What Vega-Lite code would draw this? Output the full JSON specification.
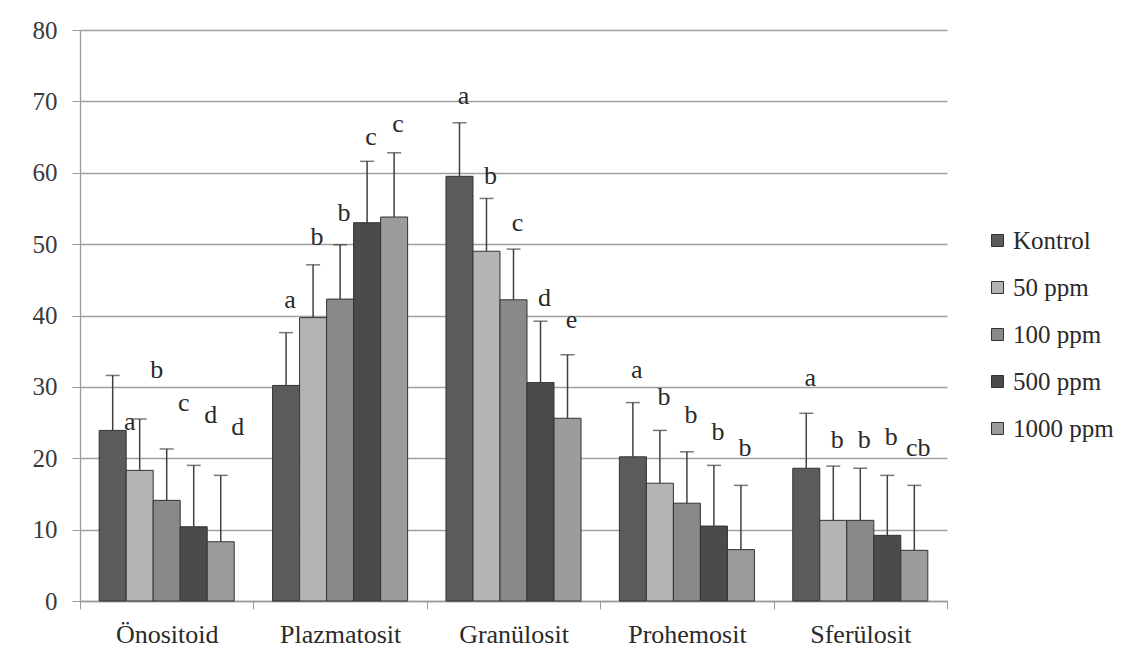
{
  "$schema": "https://vega.github.io/schema/vega-lite/v6.json",
  "width": 867,
  "height": 571,
  "autosize": {"type": "none"},
  "padding": {"left": 80, "top": 30, "right": 179, "bottom": 56},
  "background": "white",
  "config": {"view": {"stroke": null}, "font": "Liberation Serif"},
  "data": {
    "values": [
      {"group": "Önositoid", "dose": "Kontrol", "value": 23.9, "err": 31.6, "letter": "a", "ly": 25.1},
      {"group": "Önositoid", "dose": "50 ppm", "value": 18.3, "err": 25.5, "letter": "b", "ly": 32.4},
      {"group": "Önositoid", "dose": "100 ppm", "value": 14.1, "err": 21.3, "letter": "c", "ly": 27.8},
      {"group": "Önositoid", "dose": "500 ppm", "value": 10.4, "err": 19.0, "letter": "d", "ly": 26.1},
      {"group": "Önositoid", "dose": "1000 ppm", "value": 8.3, "err": 17.6, "letter": "d", "ly": 24.4},
      {"group": "Plazmatosit", "dose": "Kontrol", "value": 30.2, "err": 37.6, "letter": "a", "ly": 42.2},
      {"group": "Plazmatosit", "dose": "50 ppm", "value": 39.7, "err": 47.1, "letter": "b", "ly": 51.0},
      {"group": "Plazmatosit", "dose": "100 ppm", "value": 42.3, "err": 49.9, "letter": "b", "ly": 54.3},
      {"group": "Plazmatosit", "dose": "500 ppm", "value": 53.0, "err": 61.6, "letter": "c", "ly": 65.0},
      {"group": "Plazmatosit", "dose": "1000 ppm", "value": 53.8, "err": 62.8, "letter": "c", "ly": 66.9},
      {"group": "Granülosit", "dose": "Kontrol", "value": 59.5, "err": 67.0, "letter": "a", "ly": 70.8},
      {"group": "Granülosit", "dose": "50 ppm", "value": 49.0, "err": 56.4, "letter": "b", "ly": 59.6},
      {"group": "Granülosit", "dose": "100 ppm", "value": 42.2, "err": 49.3, "letter": "c", "ly": 52.9},
      {"group": "Granülosit", "dose": "500 ppm", "value": 30.6, "err": 39.2, "letter": "d", "ly": 42.5},
      {"group": "Granülosit", "dose": "1000 ppm", "value": 25.6, "err": 34.5, "letter": "e", "ly": 39.4},
      {"group": "Prohemosit", "dose": "Kontrol", "value": 20.2, "err": 27.8, "letter": "a", "ly": 32.4},
      {"group": "Prohemosit", "dose": "50 ppm", "value": 16.5, "err": 23.9, "letter": "b", "ly": 28.6},
      {"group": "Prohemosit", "dose": "100 ppm", "value": 13.7, "err": 20.9, "letter": "b", "ly": 26.1},
      {"group": "Prohemosit", "dose": "500 ppm", "value": 10.5, "err": 19.0, "letter": "b", "ly": 23.7},
      {"group": "Prohemosit", "dose": "1000 ppm", "value": 7.2, "err": 16.2, "letter": "b", "ly": 21.5},
      {"group": "Sferülosit", "dose": "Kontrol", "value": 18.6, "err": 26.3, "letter": "a", "ly": 31.3},
      {"group": "Sferülosit", "dose": "50 ppm", "value": 11.3, "err": 18.9, "letter": "b", "ly": 22.6},
      {"group": "Sferülosit", "dose": "100 ppm", "value": 11.3, "err": 18.6, "letter": "b", "ly": 22.6},
      {"group": "Sferülosit", "dose": "500 ppm", "value": 9.2, "err": 17.6, "letter": "b", "ly": 23.0},
      {"group": "Sferülosit", "dose": "1000 ppm", "value": 7.1, "err": 16.2, "letter": "cb", "ly": 21.5}
    ]
  },
  "encoding": {
    "x": {
      "field": "group",
      "type": "nominal",
      "sort": ["Önositoid", "Plazmatosit", "Granülosit", "Prohemosit", "Sferülosit"],
      "scale": {"paddingInner": 0, "paddingOuter": 0},
      "axis": {
        "title": null,
        "labelAngle": 0,
        "labelFont": "Liberation Serif",
        "labelFontSize": 26,
        "labelColor": "#2a2a2a",
        "labelPadding": 12,
        "tickBand": "extent",
        "tickSize": 8,
        "tickColor": "#9a9a9a",
        "domainColor": "#9a9a9a",
        "domainWidth": 1.3,
        "labelOverlap": false
      }
    },
    "xOffset": {
      "field": "dose",
      "type": "nominal",
      "sort": ["Kontrol", "50 ppm", "100 ppm", "500 ppm", "1000 ppm"],
      "scale": {"paddingInner": 0, "paddingOuter": 0.71}
    }
  },
  "layer": [
    {
      "mark": {"type": "bar", "stroke": "#333333", "strokeWidth": 1},
      "encoding": {
        "y": {
          "field": "value",
          "type": "quantitative",
          "scale": {"domain": [0, 80], "nice": false},
          "axis": {
            "title": null,
            "values": [0, 10, 20, 30, 40, 50, 60, 70, 80],
            "grid": true,
            "gridColor": "#a0a0a0",
            "gridWidth": 1.3,
            "domainColor": "#9a9a9a",
            "domainWidth": 1.3,
            "tickColor": "#9a9a9a",
            "tickSize": 8,
            "labelFont": "Liberation Serif",
            "labelFontSize": 25,
            "labelColor": "#3a3a3a",
            "labelPadding": 15
          }
        },
        "color": {
          "field": "dose",
          "type": "nominal",
          "scale": {
            "domain": ["Kontrol", "50 ppm", "100 ppm", "500 ppm", "1000 ppm"],
            "range": ["#5b5b5b", "#b4b4b4", "#898989", "#4b4b4b", "#9c9c9c"]
          },
          "legend": {
            "title": null,
            "orient": "none",
            "legendX": 905,
            "legendY": 198,
            "symbolType": "square",
            "symbolSize": 144,
            "symbolStrokeColor": "#333333",
            "symbolStrokeWidth": 1,
            "labelFont": "Liberation Serif",
            "labelFontSize": 25,
            "labelColor": "#2a2a2a",
            "labelOffset": 3,
            "rowPadding": 21
          }
        }
      }
    },
    {
      "mark": {"type": "rule", "color": "#404040", "strokeWidth": 1.5},
      "encoding": {
        "y": {"field": "value", "type": "quantitative"},
        "y2": {"field": "err"}
      }
    },
    {
      "mark": {"type": "tick", "orient": "horizontal", "size": 14, "thickness": 1.5, "color": "#404040"},
      "encoding": {
        "y": {"field": "err", "type": "quantitative"}
      }
    },
    {
      "transform": [{"filter": "datum.group === 'Önositoid'"}],
      "mark": {"type": "text", "dx": 17, "fontSize": 26, "font": "Liberation Serif", "color": "#2a2a2a", "baseline": "middle"},
      "encoding": {
        "y": {"field": "ly", "type": "quantitative"},
        "text": {"field": "letter"}
      }
    },
    {
      "transform": [{"filter": "datum.group !== 'Önositoid'"}],
      "mark": {"type": "text", "dx": 4, "fontSize": 26, "font": "Liberation Serif", "color": "#2a2a2a", "baseline": "middle"},
      "encoding": {
        "y": {"field": "ly", "type": "quantitative"},
        "text": {"field": "letter"}
      }
    }
  ]
}
